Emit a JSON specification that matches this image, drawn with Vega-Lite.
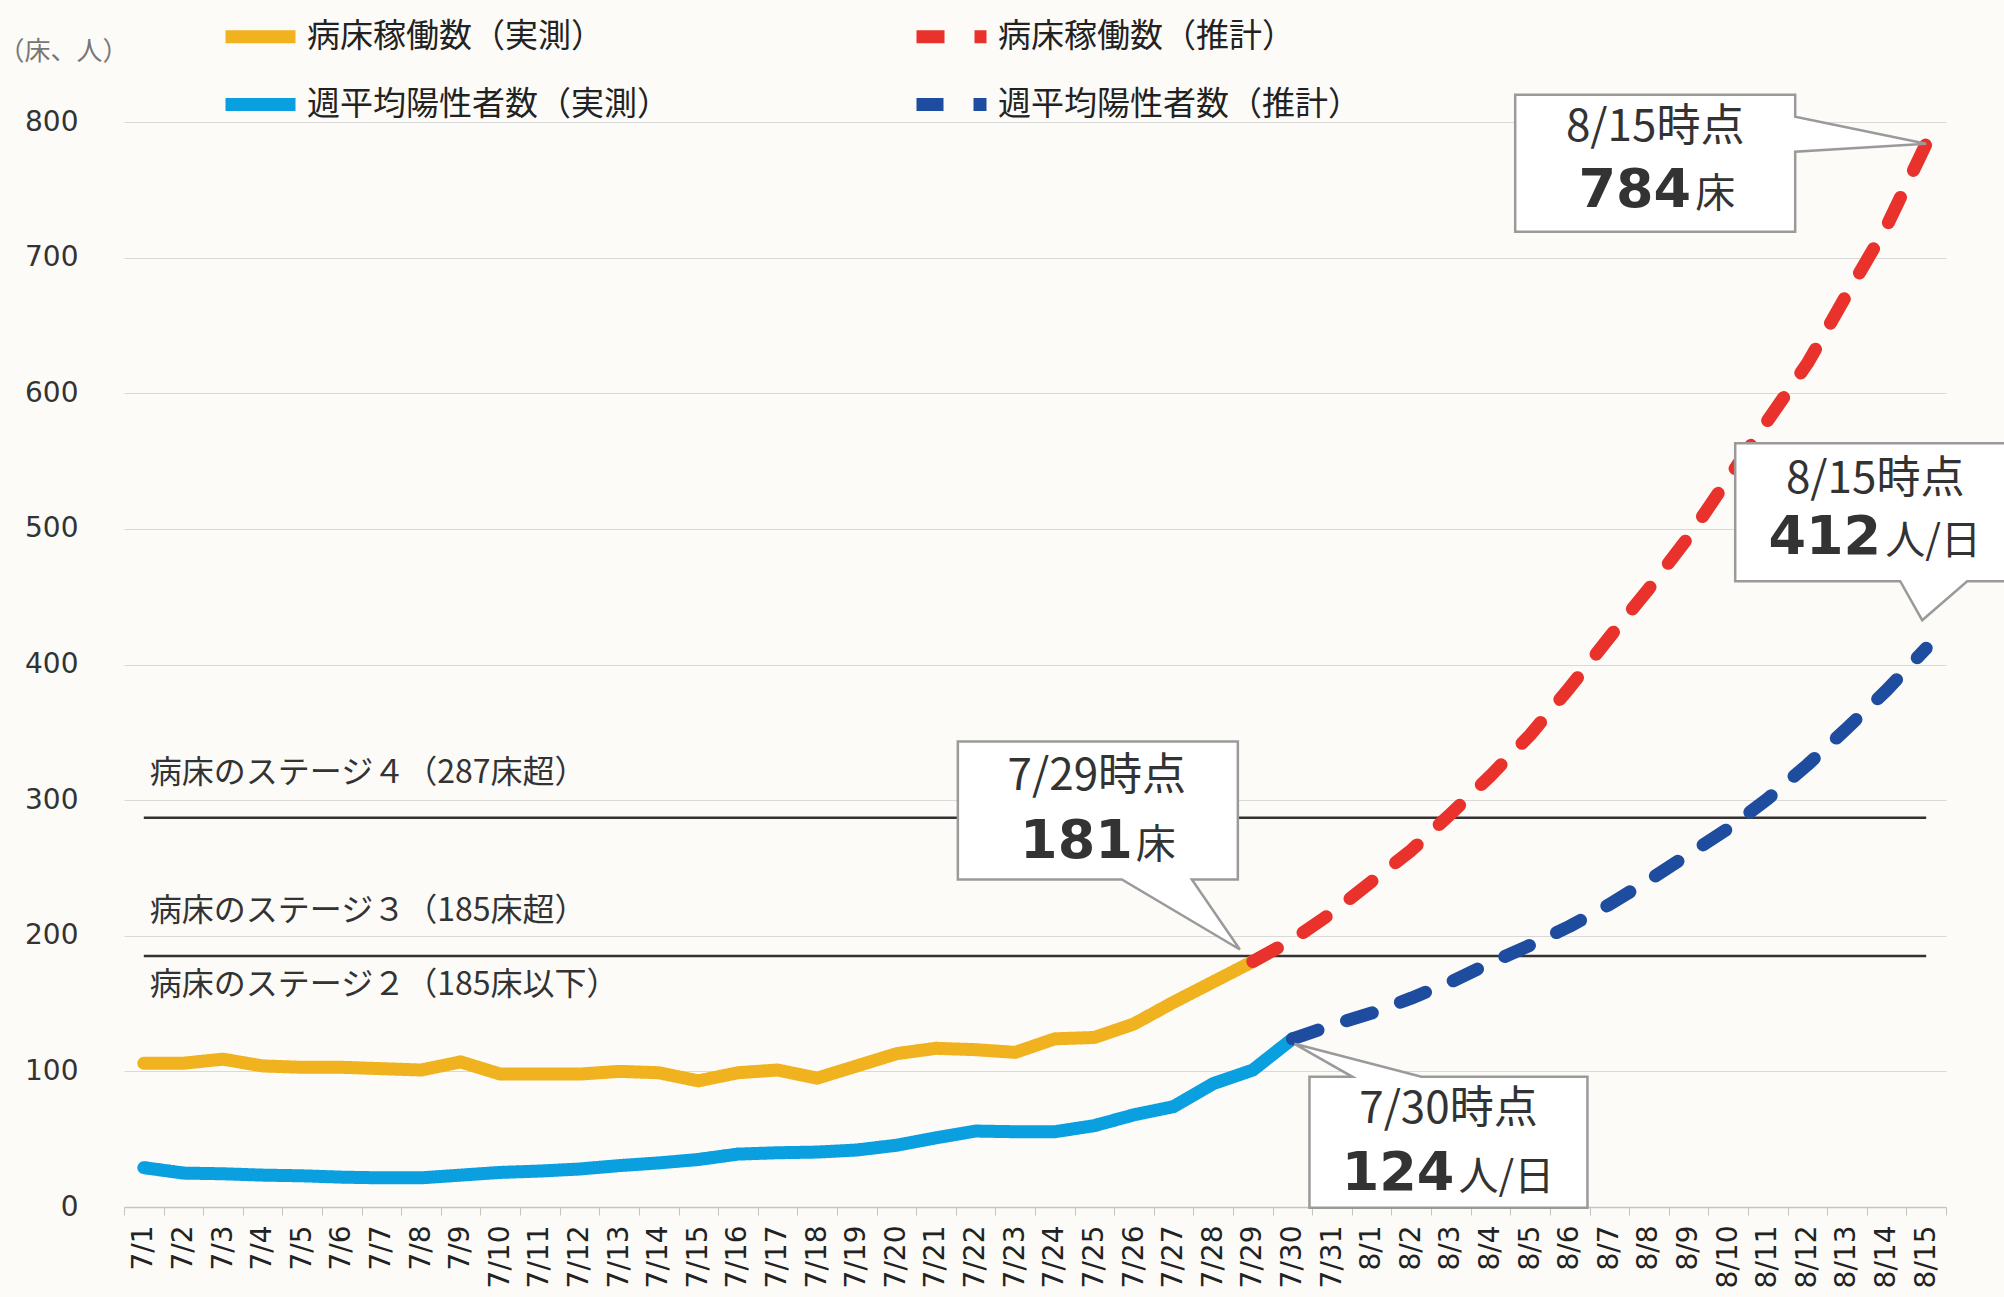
{
  "$schema": "https://vega.github.io/schema/vega-lite/v6.json",
  "width": 1822,
  "height": 1085,
  "autosize": {"type": "none"},
  "padding": {"left": 124, "top": 122, "right": 58, "bottom": 90},
  "background": "#fcfbf8",
  "config": {
    "view": {"stroke": null},
    "font": "Noto Sans CJK JP",
    "legend": {
      "orient": "none",
      "legendX": 95,
      "legendY": -127,
      "direction": "horizontal",
      "columns": 2,
      "symbolType": "stroke",
      "symbolSize": 4900,
      "symbolStrokeWidth": 13,
      "labelFont": "Noto Sans CJK JP",
      "labelFontSize": 33,
      "labelColor": "#222",
      "labelLimit": 600,
      "labelOffset": 5,
      "columnPadding": 220,
      "rowPadding": -12
    }
  },
  "datasets": {
    "series": [
      {"date": "7/1", "series": "病床稼働数（実測）", "value": 106},
      {"date": "7/2", "series": "病床稼働数（実測）", "value": 106},
      {"date": "7/3", "series": "病床稼働数（実測）", "value": 109},
      {"date": "7/4", "series": "病床稼働数（実測）", "value": 104},
      {"date": "7/5", "series": "病床稼働数（実測）", "value": 103},
      {"date": "7/6", "series": "病床稼働数（実測）", "value": 103},
      {"date": "7/7", "series": "病床稼働数（実測）", "value": 102},
      {"date": "7/8", "series": "病床稼働数（実測）", "value": 101},
      {"date": "7/9", "series": "病床稼働数（実測）", "value": 107},
      {"date": "7/10", "series": "病床稼働数（実測）", "value": 98},
      {"date": "7/11", "series": "病床稼働数（実測）", "value": 98},
      {"date": "7/12", "series": "病床稼働数（実測）", "value": 98},
      {"date": "7/13", "series": "病床稼働数（実測）", "value": 100},
      {"date": "7/14", "series": "病床稼働数（実測）", "value": 99},
      {"date": "7/15", "series": "病床稼働数（実測）", "value": 93},
      {"date": "7/16", "series": "病床稼働数（実測）", "value": 99},
      {"date": "7/17", "series": "病床稼働数（実測）", "value": 101},
      {"date": "7/18", "series": "病床稼働数（実測）", "value": 95},
      {"date": "7/19", "series": "病床稼働数（実測）", "value": 104},
      {"date": "7/20", "series": "病床稼働数（実測）", "value": 113},
      {"date": "7/21", "series": "病床稼働数（実測）", "value": 117},
      {"date": "7/22", "series": "病床稼働数（実測）", "value": 116},
      {"date": "7/23", "series": "病床稼働数（実測）", "value": 114},
      {"date": "7/24", "series": "病床稼働数（実測）", "value": 124},
      {"date": "7/25", "series": "病床稼働数（実測）", "value": 125},
      {"date": "7/26", "series": "病床稼働数（実測）", "value": 135},
      {"date": "7/27", "series": "病床稼働数（実測）", "value": 151},
      {"date": "7/28", "series": "病床稼働数（実測）", "value": 166},
      {"date": "7/29", "series": "病床稼働数（実測）", "value": 181},
      {"date": "7/1", "series": "週平均陽性者数（実測）", "value": 29},
      {"date": "7/2", "series": "週平均陽性者数（実測）", "value": 25},
      {"date": "7/3", "series": "週平均陽性者数（実測）", "value": 24.5},
      {"date": "7/4", "series": "週平均陽性者数（実測）", "value": 23.5},
      {"date": "7/5", "series": "週平均陽性者数（実測）", "value": 23},
      {"date": "7/6", "series": "週平均陽性者数（実測）", "value": 22},
      {"date": "7/7", "series": "週平均陽性者数（実測）", "value": 21.5},
      {"date": "7/8", "series": "週平均陽性者数（実測）", "value": 21.5},
      {"date": "7/9", "series": "週平均陽性者数（実測）", "value": 23.5},
      {"date": "7/10", "series": "週平均陽性者数（実測）", "value": 25.5},
      {"date": "7/11", "series": "週平均陽性者数（実測）", "value": 26.5},
      {"date": "7/12", "series": "週平均陽性者数（実測）", "value": 28},
      {"date": "7/13", "series": "週平均陽性者数（実測）", "value": 30.5},
      {"date": "7/14", "series": "週平均陽性者数（実測）", "value": 32.5},
      {"date": "7/15", "series": "週平均陽性者数（実測）", "value": 35},
      {"date": "7/16", "series": "週平均陽性者数（実測）", "value": 39},
      {"date": "7/17", "series": "週平均陽性者数（実測）", "value": 40},
      {"date": "7/18", "series": "週平均陽性者数（実測）", "value": 40.5},
      {"date": "7/19", "series": "週平均陽性者数（実測）", "value": 42},
      {"date": "7/20", "series": "週平均陽性者数（実測）", "value": 45.5},
      {"date": "7/21", "series": "週平均陽性者数（実測）", "value": 51},
      {"date": "7/22", "series": "週平均陽性者数（実測）", "value": 56},
      {"date": "7/23", "series": "週平均陽性者数（実測）", "value": 55.5},
      {"date": "7/24", "series": "週平均陽性者数（実測）", "value": 55.5},
      {"date": "7/25", "series": "週平均陽性者数（実測）", "value": 60},
      {"date": "7/26", "series": "週平均陽性者数（実測）", "value": 68},
      {"date": "7/27", "series": "週平均陽性者数（実測）", "value": 74},
      {"date": "7/28", "series": "週平均陽性者数（実測）", "value": 91},
      {"date": "7/29", "series": "週平均陽性者数（実測）", "value": 101},
      {"date": "7/30", "series": "週平均陽性者数（実測）", "value": 124},
      {"date": "7/29", "series": "病床稼働数（推計）", "value": 181},
      {"date": "7/30", "series": "病床稼働数（推計）", "value": 197},
      {"date": "7/31", "series": "病床稼働数（推計）", "value": 217},
      {"date": "8/1", "series": "病床稼働数（推計）", "value": 240},
      {"date": "8/2", "series": "病床稼働数（推計）", "value": 263},
      {"date": "8/3", "series": "病床稼働数（推計）", "value": 290},
      {"date": "8/4", "series": "病床稼働数（推計）", "value": 318},
      {"date": "8/5", "series": "病床稼働数（推計）", "value": 348},
      {"date": "8/6", "series": "病床稼働数（推計）", "value": 383},
      {"date": "8/7", "series": "病床稼働数（推計）", "value": 420},
      {"date": "8/8", "series": "病床稼働数（推計）", "value": 456},
      {"date": "8/9", "series": "病床稼働数（推計）", "value": 494},
      {"date": "8/10", "series": "病床稼働数（推計）", "value": 537},
      {"date": "8/11", "series": "病床稼働数（推計）", "value": 580},
      {"date": "8/12", "series": "病床稼働数（推計）", "value": 622},
      {"date": "8/13", "series": "病床稼働数（推計）", "value": 673},
      {"date": "8/14", "series": "病床稼働数（推計）", "value": 723},
      {"date": "8/15", "series": "病床稼働数（推計）", "value": 784},
      {"date": "7/30", "series": "週平均陽性者数（推計）", "value": 124},
      {"date": "7/31", "series": "週平均陽性者数（推計）", "value": 134},
      {"date": "8/1", "series": "週平均陽性者数（推計）", "value": 143},
      {"date": "8/2", "series": "週平均陽性者数（推計）", "value": 154},
      {"date": "8/3", "series": "週平均陽性者数（推計）", "value": 166},
      {"date": "8/4", "series": "週平均陽性者数（推計）", "value": 180},
      {"date": "8/5", "series": "週平均陽性者数（推計）", "value": 193},
      {"date": "8/6", "series": "週平均陽性者数（推計）", "value": 207},
      {"date": "8/7", "series": "週平均陽性者数（推計）", "value": 223},
      {"date": "8/8", "series": "週平均陽性者数（推計）", "value": 241},
      {"date": "8/9", "series": "週平均陽性者数（推計）", "value": 260},
      {"date": "8/10", "series": "週平均陽性者数（推計）", "value": 279},
      {"date": "8/11", "series": "週平均陽性者数（推計）", "value": 301},
      {"date": "8/12", "series": "週平均陽性者数（推計）", "value": 326},
      {"date": "8/13", "series": "週平均陽性者数（推計）", "value": 353},
      {"date": "8/14", "series": "週平均陽性者数（推計）", "value": 381},
      {"date": "8/15", "series": "週平均陽性者数（推計）", "value": 412}
    ],
    "stages": [
      {"stage": "病床のステージ４（287床超）", "beds": 287, "pos": "above"},
      {"stage": "病床のステージ３（185床超）", "beds": 185, "pos": "above"},
      {"stage": "病床のステージ２（185床以下）", "beds": 185, "pos": "below"}
    ],
    "callouts": [
      {"id": "A", "date": "8/15", "value": 784, "head": "8/15時点", "num": "784", "unit": "床"},
      {"id": "B", "date": "8/15", "value": 412, "head": "8/15時点", "num": "412", "unit": "人/日"},
      {"id": "C", "date": "7/29", "value": 181, "head": "7/29時点", "num": "181", "unit": "床"},
      {"id": "D", "date": "7/30", "value": 124, "head": "7/30時点", "num": "124", "unit": "人/日"}
    ]
  },
  "encoding": {
    "x": {
      "field": "date",
      "type": "ordinal",
      "title": null,
      "scale": {
        "type": "band",
        "paddingInner": 0,
        "paddingOuter": 0,
        "domain": ["7/1","7/2","7/3","7/4","7/5","7/6","7/7","7/8","7/9","7/10","7/11","7/12","7/13","7/14","7/15","7/16","7/17","7/18","7/19","7/20","7/21","7/22","7/23","7/24","7/25","7/26","7/27","7/28","7/29","7/30","7/31","8/1","8/2","8/3","8/4","8/5","8/6","8/7","8/8","8/9","8/10","8/11","8/12","8/13","8/14","8/15"]
      },
      "axis": {
        "labelAngle": 270,
        "labelFont": "DejaVu Sans",
        "labelFontSize": 28,
        "labelColor": "#222",
        "labelPadding": 10,
        "tickBand": "extent",
        "tickSize": 8,
        "tickColor": "#c4c4c4",
        "domainColor": "#c4c4c4",
        "domainWidth": 1.5,
        "grid": false
      }
    },
    "y": {
      "field": "value",
      "type": "quantitative",
      "scale": {"domain": [0, 800], "nice": false},
      "title": "（床、人）",
      "axis": {
        "values": [0, 100, 200, 300, 400, 500, 600, 700, 800],
        "labelFont": "DejaVu Sans",
        "labelFontSize": 28,
        "labelColor": "#333",
        "labelPadding": 46,
        "ticks": false,
        "domain": false,
        "gridColor": "#d9d9d9",
        "gridWidth": 1.2,
        "titleAngle": 0,
        "titleX": -126,
        "titleY": -71,
        "titleAlign": "left",
        "titleBaseline": "middle",
        "titleFont": "Noto Sans CJK JP",
        "titleFontSize": 26,
        "titleFontWeight": "normal",
        "titleColor": "#777"
      }
    }
  },
  "layer": [
    {
      "data": {"name": "stages"},
      "transform": [{"filter": "datum.pos == 'above'"}],
      "mark": {"type": "rule", "color": "#333", "strokeWidth": 2.5},
      "encoding": {
        "x": {"datum": "7/1", "type": "ordinal"},
        "x2": {"datum": "8/15"},
        "y": {"field": "beds", "type": "quantitative"}
      }
    },
    {
      "data": {"name": "stages"},
      "transform": [{"filter": "datum.pos == 'above'"}],
      "mark": {"type": "text", "align": "left", "baseline": "middle", "dx": 6, "dy": -45, "fontSize": 32, "color": "#333", "font": "Noto Sans CJK JP"},
      "encoding": {
        "x": {"datum": "7/1", "type": "ordinal"},
        "y": {"field": "beds", "type": "quantitative"},
        "text": {"field": "stage"}
      }
    },
    {
      "data": {"name": "stages"},
      "transform": [{"filter": "datum.pos == 'below'"}],
      "mark": {"type": "text", "align": "left", "baseline": "middle", "dx": 6, "dy": 29, "fontSize": 32, "color": "#333", "font": "Noto Sans CJK JP"},
      "encoding": {
        "x": {"datum": "7/1", "type": "ordinal"},
        "y": {"field": "beds", "type": "quantitative"},
        "text": {"field": "stage"}
      }
    },
    {
      "data": {"name": "series"},
      "mark": {"type": "line", "strokeWidth": 13, "strokeCap": "round", "strokeJoin": "round"},
      "encoding": {
        "color": {
          "field": "series",
          "type": "nominal",
          "title": null,
          "scale": {
            "domain": ["病床稼働数（実測）", "病床稼働数（推計）", "週平均陽性者数（実測）", "週平均陽性者数（推計）"],
            "range": ["#F0B21E", "#E8322B", "#0A9FDF", "#1E4C9E"]
          }
        },
        "strokeDash": {
          "field": "series",
          "type": "nominal",
          "title": null,
          "scale": {
            "domain": ["病床稼働数（実測）", "病床稼働数（推計）", "週平均陽性者数（実測）", "週平均陽性者数（推計）"],
            "range": [[1, 0], [28, 30], [1, 0], [27, 30]]
          }
        }
      }
    },
    {
      "data": {"name": "callouts"},
      "mark": {"type": "point", "filled": false, "fill": "white", "fillOpacity": 1, "stroke": "#9a9a9a", "strokeWidth": 2.5, "strokeOpacity": 1, "opacity": 1, "size": 40000},
      "encoding": {
        "shape": {
          "field": "id",
          "type": "nominal",
          "legend": null,
          "scale": {
            "domain": ["A", "B", "C", "D"],
            "range": [
              "M-4.11,-0.49 L-1.31,-0.49 L-1.31,-0.27 L0,0 L-1.31,0.08 L-1.31,0.88 L-4.11,0.88 Z",
              "M-1.91,-2.05 L1.0,-2.05 L1.0,-0.67 L0.41,-0.67 L-0.04,-0.28 L-0.26,-0.67 L-1.91,-0.67 Z",
              "M-2.95,-2.2 L-0.15,-2.2 L-0.15,-0.82 L-0.61,-0.82 L-0.13,-0.12 L-1.31,-0.82 L-2.95,-0.82 Z",
              "M0.17,0.38 L0.6,0.38 L0.02,0.05 L1.29,0.38 L2.95,0.38 L2.95,1.69 L0.17,1.69 Z"
            ]
          }
        }
      }
    },
    {
      "data": {"name": "callouts"},
      "transform": [{"filter": "datum.id == 'A'"}],
      "layer": [
        {"mark": {"type": "text", "align": "center", "baseline": "middle", "dx": -271, "dy": -16, "fontSize": 44, "color": "#333", "font": "Noto Sans CJK JP"}, "encoding": {"text": {"field": "head"}}},
        {"mark": {"type": "text", "align": "right", "baseline": "alphabetic", "dx": -235, "dy": 63, "fontSize": 54, "fontWeight": "bold", "color": "#333", "font": "DejaVu Sans"}, "encoding": {"text": {"field": "num"}}},
        {"mark": {"type": "text", "align": "left", "baseline": "alphabetic", "dx": -231, "dy": 63, "fontSize": 40, "color": "#333", "font": "Noto Sans CJK JP"}, "encoding": {"text": {"field": "unit"}}}
      ]
    },
    {
      "data": {"name": "callouts"},
      "transform": [{"filter": "datum.id == 'B'"}],
      "layer": [
        {"mark": {"type": "text", "align": "center", "baseline": "middle", "dx": -51, "dy": -168, "fontSize": 44, "color": "#333", "font": "Noto Sans CJK JP"}, "encoding": {"text": {"field": "head"}}},
        {"mark": {"type": "text", "align": "right", "baseline": "alphabetic", "dx": -45, "dy": -94, "fontSize": 54, "fontWeight": "bold", "color": "#333", "font": "DejaVu Sans"}, "encoding": {"text": {"field": "num"}}},
        {"mark": {"type": "text", "align": "left", "baseline": "alphabetic", "dx": -41, "dy": -94, "fontSize": 40, "color": "#333", "font": "Noto Sans CJK JP"}, "encoding": {"text": {"field": "unit"}}}
      ]
    },
    {
      "data": {"name": "callouts"},
      "transform": [{"filter": "datum.id == 'C'"}],
      "layer": [
        {"mark": {"type": "text", "align": "center", "baseline": "middle", "dx": -156, "dy": -185, "fontSize": 44, "color": "#333", "font": "Noto Sans CJK JP"}, "encoding": {"text": {"field": "head"}}},
        {"mark": {"type": "text", "align": "right", "baseline": "alphabetic", "dx": -120, "dy": -104, "fontSize": 54, "fontWeight": "bold", "color": "#333", "font": "DejaVu Sans"}, "encoding": {"text": {"field": "num"}}},
        {"mark": {"type": "text", "align": "left", "baseline": "alphabetic", "dx": -117, "dy": -104, "fontSize": 40, "color": "#333", "font": "Noto Sans CJK JP"}, "encoding": {"text": {"field": "unit"}}}
      ]
    },
    {
      "data": {"name": "callouts"},
      "transform": [{"filter": "datum.id == 'D'"}],
      "layer": [
        {"mark": {"type": "text", "align": "center", "baseline": "middle", "dx": 156, "dy": 71, "fontSize": 44, "color": "#333", "font": "Noto Sans CJK JP"}, "encoding": {"text": {"field": "head"}}},
        {"mark": {"type": "text", "align": "right", "baseline": "alphabetic", "dx": 162, "dy": 151, "fontSize": 54, "fontWeight": "bold", "color": "#333", "font": "DejaVu Sans"}, "encoding": {"text": {"field": "num"}}},
        {"mark": {"type": "text", "align": "left", "baseline": "alphabetic", "dx": 166, "dy": 151, "fontSize": 40, "color": "#333", "font": "Noto Sans CJK JP"}, "encoding": {"text": {"field": "unit"}}}
      ]
    }
  ]
}
